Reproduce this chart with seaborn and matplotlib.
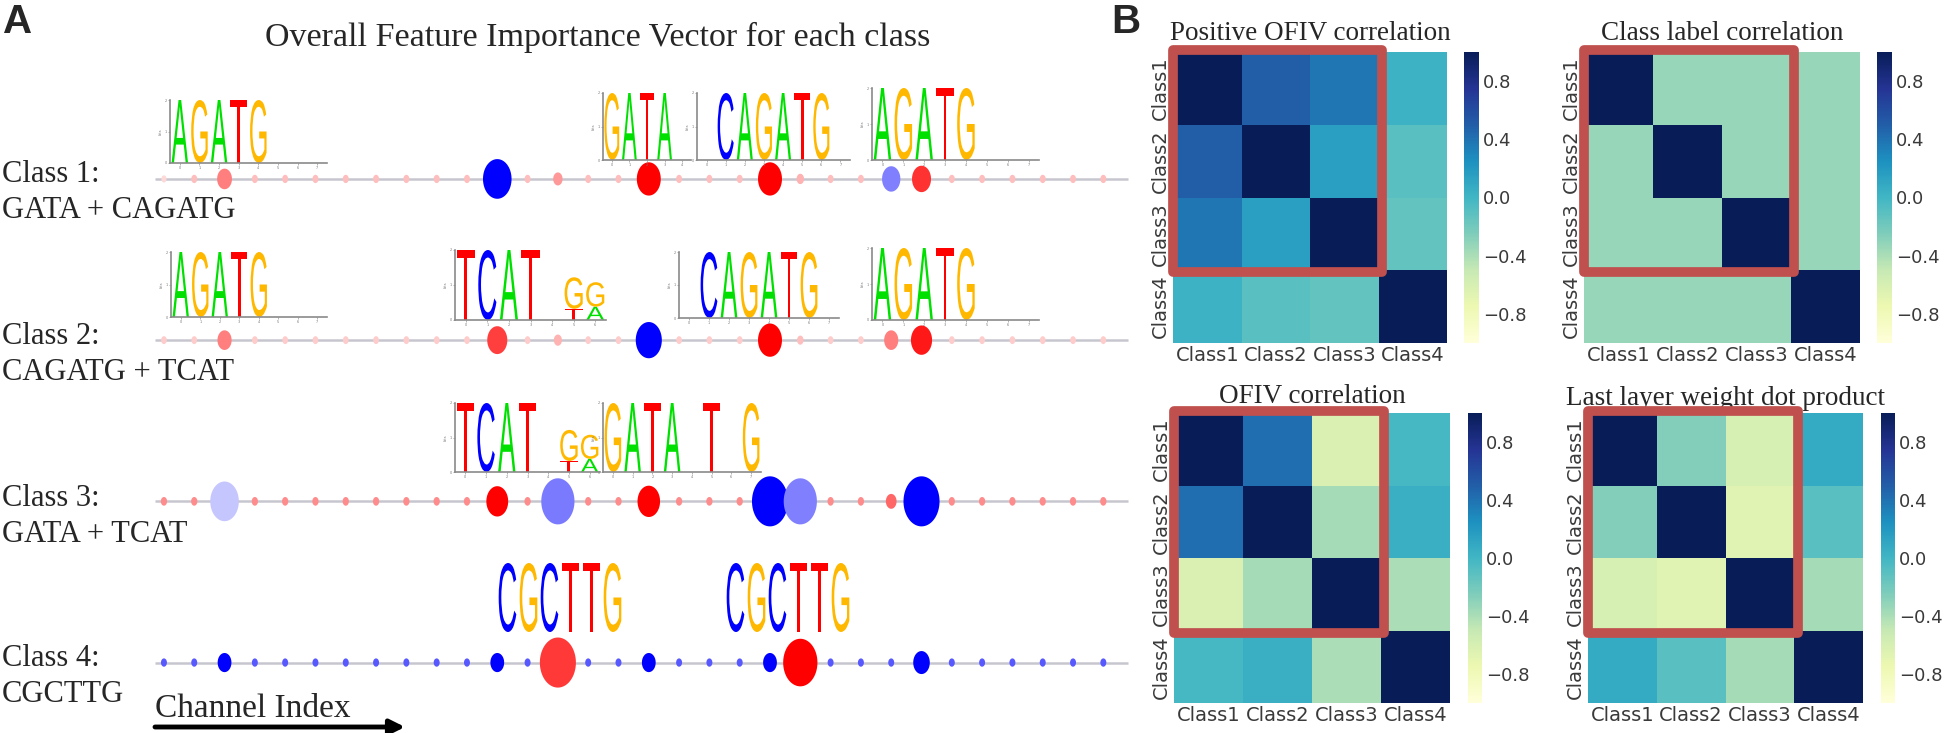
import numpy as np
import pandas as pd
import matplotlib
matplotlib.use("Agg")
from matplotlib import pyplot as plt
from matplotlib.colors import PowerNorm
from matplotlib.font_manager import FontProperties
from matplotlib.patches import PathPatch, Rectangle
from matplotlib.path import Path
from matplotlib.textpath import TextPath
from matplotlib.transforms import Affine2D
import seaborn as sns

sns.set_style("white")
plt.rcParams["font.family"] = ["DejaVu Sans"]

# ---------------- panel A data ----------------
channels = list(range(32))
class_labels = ["Class 1:", "Class 2:", "Class 3:", "Class 4:"]
class_motifs = ["GATA + CAGATG", "CAGATG + TCAT", "GATA + TCAT", "CGCTTG"]

# signed channel importance (-> dot size) and colour strength (-> shade), per class
c1_imp = [0.10, 0.13, 0.40, 0.13, 0.13, 0.13, 0.13, 0.13, 0.13, 0.13, 0.13, -0.79,
          0.13, 0.24, 0.13, 0.13, 0.66, 0.13, 0.13, 0.13, 0.66, 0.18, 0.13, 0.13,
          -0.50, 0.52, 0.13, 0.13, 0.13, 0.13, 0.13, 0.13]
c1_tone = [0.15, 0.25, 0.50, 0.25, 0.25, 0.25, 0.25, 0.25, 0.25, 0.25, 0.25, 1.00,
           0.25, 0.40, 0.25, 0.25, 1.00, 0.25, 0.25, 0.25, 1.00, 0.30, 0.25, 0.25,
           0.50, 0.80, 0.25, 0.25, 0.25, 0.25, 0.25, 0.25]
c2_imp = [0.12, 0.12, 0.38, 0.12, 0.12, 0.12, 0.12, 0.12, 0.12, 0.12, 0.12, 0.55,
          0.12, 0.20, 0.12, 0.12, -0.72, 0.12, 0.12, 0.12, 0.66, 0.15, 0.12, 0.12,
          0.38, 0.58, 0.12, 0.12, 0.12, 0.12, 0.12, 0.12]
c2_tone = [0.20, 0.20, 0.50, 0.20, 0.20, 0.20, 0.20, 0.20, 0.20, 0.20, 0.20, 0.75,
           0.20, 0.30, 0.20, 0.20, 1.00, 0.20, 0.20, 0.20, 1.00, 0.25, 0.20, 0.20,
           0.50, 0.90, 0.20, 0.20, 0.20, 0.20, 0.20, 0.20]
c3_imp = [0.14, 0.14, -0.79, 0.14, 0.14, 0.14, 0.14, 0.14, 0.14, 0.14, 0.14, 0.60,
          0.14, -0.92, 0.14, 0.14, 0.62, 0.14, 0.14, 0.14, -1.00, -0.92, 0.14, 0.14,
          0.28, -1.00, 0.14, 0.14, 0.14, 0.14, 0.14, 0.14]
c3_tone = [0.45, 0.45, 0.22, 0.45, 0.45, 0.45, 0.45, 0.45, 0.45, 0.45, 0.45, 1.00,
           0.45, 0.52, 0.45, 0.45, 1.00, 0.45, 0.45, 0.45, 1.00, 0.50, 0.45, 0.45,
           0.60, 1.00, 0.45, 0.45, 0.45, 0.45, 0.45, 0.45]
c4_imp = [-0.13, -0.13, -0.37, -0.13, -0.13, -0.13, -0.13, -0.13, -0.13, -0.13, -0.13, -0.37,
          -0.13, 1.00, -0.13, -0.13, -0.37, -0.13, -0.13, -0.13, -0.37, 0.95, -0.13, -0.13,
          -0.13, -0.45, -0.13, -0.13, -0.13, -0.13, -0.13, -0.13]
c4_tone = [0.65, 0.65, 1.00, 0.65, 0.65, 0.65, 0.65, 0.65, 0.65, 0.65, 0.65, 1.00,
           0.65, 0.78, 0.65, 0.65, 1.00, 0.65, 0.65, 0.65, 1.00, 1.00, 0.65, 0.65,
           0.65, 1.00, 0.65, 0.65, 0.65, 0.65, 0.65, 0.65]

# sequence logos: one stack of (base, bits) per position
logo_agatg = [[("A", 2.0)], [("G", 2.0)], [("A", 2.0)], [("T", 2.0)], [("G", 2.0)], [], [], []]
logo_gata = [[("G", 2.0)], [("A", 2.0)], [("T", 2.0)], [("A", 2.0)], []]
logo_cagatg = [[], [("C", 2.0)], [("A", 2.0)], [("G", 2.0)], [("A", 2.0)], [("T", 2.0)], [("G", 2.0)], []]
logo_tcatgg = [[("T", 2.0)], [("C", 2.0)], [("A", 2.0)], [("T", 2.0)], [],
               [("T", 0.32), ("G", 0.90)], [("A", 0.38), ("G", 0.70)]]
logo_gatatg = [[("G", 2.0)], [("A", 2.0)], [("T", 2.0)], [("A", 2.0)], [], [("T", 2.0)], [], [("G", 2.0)]]
logo_cgcttg = [[("C", 2.0)], [("G", 2.0)], [("C", 2.0)], [("T", 2.0)], [("T", 2.0)], [("G", 2.0)]]

# ---------------- panel B data ----------------
class_ticks = ["Class1", "Class2", "Class3", "Class4"]
pos_ofiv_corr = [[1.00, 0.50, 0.38, 0.03],
                 [0.50, 1.00, 0.15, -0.10],
                 [0.38, 0.15, 1.00, -0.14],
                 [0.03, -0.10, -0.14, 1.00]]
class_label_corr = [[1.00, -0.333, -0.333, -0.333],
                    [-0.333, 1.00, -0.333, -0.333],
                    [-0.333, -0.333, 1.00, -0.333],
                    [-0.333, -0.333, -0.333, 1.00]]
ofiv_corr = [[1.00, 0.42, -0.62, -0.02],
             [0.42, 1.00, -0.38, 0.05],
             [-0.62, -0.38, 1.00, -0.40],
             [-0.02, 0.05, -0.40, 1.00]]
last_layer_dot = [[1.00, -0.26, -0.60, 0.08],
                  [-0.26, 1.00, -0.66, -0.10],
                  [-0.60, -0.66, 1.00, -0.38],
                  [0.08, -0.10, -0.38, 1.00]]
heat_titles = ["Positive OFIV correlation", "Class label correlation",
               "OFIV correlation", "Last layer weight dot product"]

# ---------------- figure ----------------
W, H = 1944, 733
fig = plt.figure(figsize=(W / 100, H / 100), dpi=100)


def box(l, t, r, b):
    return [l / W, 1 - b / H, (r - l) / W, (b - t) / H]


serif = "Liberation Serif"

# panel A: dot strips
axA = fig.add_axes([0, 0, 1130 / W, 1])
records = []
for k, (imp, tone) in enumerate([(c1_imp, c1_tone), (c2_imp, c2_tone),
                                  (c3_imp, c3_tone), (c4_imp, c4_tone)]):
    for ch, v, t in zip(channels, imp, tone):
        records.append({"channel": ch, "row": k, "shade": np.sign(v) * t, "weight": abs(v)})
dots = pd.DataFrame(records)

theta = np.linspace(0, 2 * np.pi, 64)
ellipse = Path(np.column_stack([0.72 * np.cos(theta), np.sin(theta)]), closed=True)

axA.hlines(range(4), -0.3, 31.8, color="#c6c6cf", lw=1.8, zorder=1)
sns.scatterplot(data=dots, x="channel", y="row", hue="shade", palette="bwr", hue_norm=(-1, 1),
                size="weight", sizes=(14, 1300), size_norm=PowerNorm(2, vmin=0, vmax=1),
                marker=ellipse, edgecolor="none", linewidth=0, legend=False, ax=axA, zorder=3)
axA.set_xlim(-5.41, 31.88)
axA.set_ylim(3.437, -1.11)
axA.axis("off")

row_px = [179, 340, 502, 662]
for y, lab, mot in zip(row_px, class_labels, class_motifs):
    fig.text(2 / W, 1 - (y - 4) / H, lab, family=serif, fontsize=22, va="center", ha="left")
    fig.text(2 / W, 1 - (y + 32) / H, mot, family=serif, fontsize=22, va="center", ha="left")

fig.text(598 / W, 1 - 37 / H, "Overall Feature Importance Vector for each class",
         family=serif, fontsize=24.5, ha="center", va="center")
fig.text(155 / W, 1 - 709 / H, "Channel Index", family=serif, fontsize=24, ha="left", va="center")
axA.annotate("", xy=(405 / W, 1 - 727 / H), xytext=(155 / W, 1 - 727 / H),
             xycoords="figure fraction", textcoords="figure fraction",
             arrowprops=dict(arrowstyle="-|>", lw=3.5, color="black", mutation_scale=22,
                             shrinkA=0, shrinkB=0))

LOGO_FONT = FontProperties(family="Liberation Sans")
base_colors = {"A": "#00e000", "C": "#0000ff", "G": "#ffb800", "T": "#ff0000"}


def draw_logo(rect, columns, frame=True):
    ax = fig.add_axes(box(*rect))
    ax.set_facecolor("none")
    n = len(columns)
    for pos, stack in enumerate(columns):
        y0 = 0.0
        for base, bits in stack:
            tp = TextPath((0, 0), base, size=1, prop=LOGO_FONT)
            bb = tp.get_extents()
            tr = (Affine2D().translate(-bb.x0, -bb.y0)
                  .scale(0.84 / bb.width, bits / bb.height)
                  .translate(pos - 0.42, y0))
            ax.add_patch(PathPatch(tr.transform_path(tp), fc=base_colors[base], ec="none"))
            y0 += bits
    ax.set_xlim(-0.5, n - 0.5)
    ax.set_ylim(0, 2)
    if not frame:
        ax.axis("off")
        return ax
    for side in ["top", "right"]:
        ax.spines[side].set_visible(False)
    for side in ["left", "bottom"]:
        ax.spines[side].set_color("#8a8a8a")
        ax.spines[side].set_linewidth(1.2)
    ax.set_xticks(range(n))
    ax.set_xticklabels([str(i) for i in range(n)])
    ax.set_yticks([0, 1, 2])
    ax.set_ylabel("bits", fontsize=2.5, labelpad=1, color="#777777")
    ax.tick_params(bottom=True, left=True, length=1.5, width=0.4, labelsize=2.5, pad=1,
                   colors="#777777")
    return ax


draw_logo((170, 100, 327, 163), logo_agatg)
draw_logo((603, 93, 691, 160), logo_gata)
draw_logo((697, 93, 850, 160), logo_cagatg)
draw_logo((872, 88, 1039, 160), logo_agatg)
draw_logo((171, 252, 327, 317), logo_agatg)
draw_logo((455, 250, 606, 320), logo_tcatgg)
draw_logo((679, 252, 839, 318), logo_cagatg)
draw_logo((872, 248, 1039, 320), logo_agatg)
draw_logo((455, 403, 600, 472), logo_tcatgg)
draw_logo((603, 403, 761, 472), logo_gatatg)
draw_logo((497, 563, 623, 632), logo_cgcttg, frame=False)
draw_logo((725, 563, 851, 632), logo_cgcttg, frame=False)

# panel B: correlation heatmaps
heat_boxes = [(1173, 52, 1447, 343), (1584, 52, 1860, 343),
              (1174, 413, 1450, 703), (1588, 413, 1863, 703)]
cbar_x = [(1464, 1479), (1877, 1892), (1468, 1482), (1881, 1895)]
title_pad = [9, 9, 7, 6]
mats = [pos_ofiv_corr, class_label_corr, ofiv_corr, last_layer_dot]

for mat, title, hb, cx, pad in zip(mats, heat_titles, heat_boxes, cbar_x, title_pad):
    ax = fig.add_axes(box(*hb))
    cax = fig.add_axes(box(cx[0], hb[1], cx[1], hb[3]))
    sns.heatmap(np.array(mat), cmap="YlGnBu", vmin=-1, vmax=1, ax=ax, cbar_ax=cax,
                xticklabels=class_ticks, yticklabels=class_ticks)
    ax.set_title(title, family=serif, fontsize=19.5, pad=pad)
    ax.tick_params(labelsize=14, length=0, pad=2, colors="#3a3a3a")
    plt.setp(ax.get_yticklabels(), rotation=90, va="center")
    cax.set_yticks([-0.8, -0.4, 0.0, 0.4, 0.8])
    cax.set_yticklabels(["\u22120.8", "\u22120.4", "0.0", "0.4", "0.8"])
    cax.tick_params(labelsize=13, length=0, pad=3, colors="#3a3a3a")
    ax.collections[0].colorbar.outline.set_visible(False)
    ax.add_patch(Rectangle((0.0, -0.03), 3.05, 3.06, fill=False, ec="#c0504d", lw=7,
                           joinstyle="round", clip_on=False, zorder=5))

fig.text(3 / W, 1 - 3 / H, "A", family="Liberation Sans", weight="bold", fontsize=29,
         ha="left", va="top")
fig.text(1111 / W, 1 - 3 / H, "B", family="Liberation Sans", weight="bold", fontsize=29,
         ha="left", va="top")

fig.savefig("out.png", dpi=100)
